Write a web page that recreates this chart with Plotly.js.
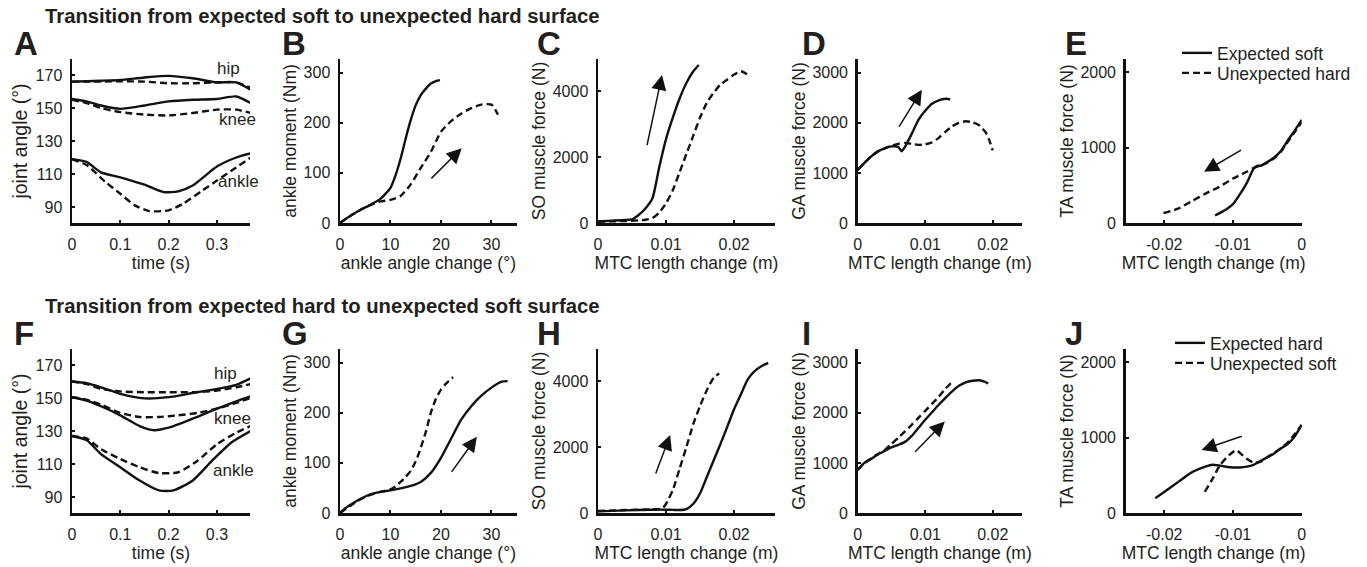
<!DOCTYPE html>
<html><head><meta charset="utf-8">
<script src="https://cdn.plot.ly/plotly-3.0.1.min.js"></script>
<style>html,body{margin:0;padding:0;background:#fff}#chart{width:1367px;height:567px}</style>
</head><body><div id="chart"></div>
<script>
// ---------- DATA ----------
// Panel A (expected soft vs unexpected hard) joint angles vs time
const aT = [0,0.03,0.06,0.1,0.15,0.2,0.25,0.3,0.34,0.37];
const aHipSolid = [166,166.2,166.5,167,168.5,169.5,168,165.5,165.5,161];
const aHipDash  = [166,166,166,166.2,166,165,165,165.6,165.5,162.2];
const aKneeSolid = [155.5,154,151.5,149.5,151.5,154,155,155.5,157,153];
const aKneeDash  = [155,153,150,147.5,146,145.5,147,149,149,147];
const aAnkT = [0,0.03,0.06,0.1,0.15,0.19,0.22,0.25,0.3,0.34,0.37];
const aAnkSolid = [119,117.3,111,108,103.5,99,99.5,103,114.5,120,122.5];
const aAnkDashT = [0,0.03,0.07,0.1,0.13,0.16,0.2,0.23,0.27,0.3,0.34,0.37];
const aAnkDash = [119,115.5,105,98,91,87.5,88,92,100,106,114,120];
// Panel B ankle moment vs ankle angle change
const bSolidX = [0,2,4,6,8,10,11,12,13,14,15,16,17,18,19,19.8];
const bSolidY = [0,14,26,36,48,70,95,128,168,205,235,255,268,278,283,285];
const bDashX = [0,2,4,6,8,10,12,14,16,18,20,22,24,26,28,30,31.3];
const bDashY = [0,14,26,36,43,46,54,77,110,142,182,203,218,229,236,236,216];
// Panel C SO force vs MTC length change
const cSolidX = [0,0.002,0.004,0.005,0.006,0.007,0.008,0.009,0.010,0.011,0.012,0.013,0.014,0.0148];
const cSolidY = [50,70,90,110,250,450,750,1700,2550,3200,3780,4250,4600,4790];
const cDashX = [0,0.002,0.004,0.006,0.007,0.008,0.009,0.010,0.011,0.012,0.013,0.014,0.015,0.016,0.017,0.018,0.019,0.020,0.021,0.0221];
const cDashY = [40,50,60,80,100,150,320,600,1000,1550,2100,2650,3200,3650,3950,4200,4350,4500,4600,4480];
// Panel D GA force
const dSolidX = [0,0.001,0.002,0.003,0.004,0.005,0.006,0.0065,0.007,0.008,0.009,0.010,0.011,0.012,0.013,0.0137];
const dSolidY = [1060,1200,1330,1430,1490,1530,1520,1430,1520,1780,2060,2240,2380,2450,2480,2470];
const dDashX = [0,0.001,0.002,0.003,0.004,0.005,0.006,0.007,0.008,0.009,0.010,0.011,0.012,0.013,0.014,0.015,0.016,0.017,0.018,0.019,0.0195,0.020];
const dDashY = [1060,1200,1330,1430,1490,1540,1580,1600,1580,1560,1570,1610,1700,1820,1930,2000,2030,2010,1950,1800,1650,1450];
// Panel E TA force
const eSolidX = [-0.0126,-0.011,-0.010,-0.009,-0.008,-0.007,-0.0065,-0.006,-0.005,-0.004,-0.003,-0.002,-0.001,0];
const eSolidY = [100,180,250,380,530,720,760,760,810,870,960,1100,1230,1370];
const eDashX = [-0.0201,-0.018,-0.016,-0.014,-0.012,-0.010,-0.008,-0.007,-0.006,-0.005,-0.004,-0.003,-0.002,-0.001,0];
const eDashY = [130,190,290,390,480,590,680,730,760,800,860,950,1080,1210,1340];

// Panel F (expected hard vs unexpected soft) joint angles
const fT = [0,0.03,0.06,0.1,0.15,0.2,0.25,0.3,0.34,0.37];
const fHipSolid = [160,159,156.5,152.5,149.8,150.5,153,155.5,158,162];
const fHipDash  = [160,158.5,155.5,154,153.5,153.5,153.5,154.5,156.5,158.5];
const fKneeT = [0,0.03,0.06,0.1,0.14,0.17,0.2,0.25,0.3,0.34,0.37];
const fKneeSolid = [150.5,148.5,145,139.5,133,130.5,132,137.5,143.5,148,151];
const fKneeDashT = [0,0.03,0.06,0.1,0.14,0.18,0.22,0.26,0.3,0.34,0.37];
const fKneeDash  = [150.5,149,146,141,138.5,138.5,139.5,141,143.5,147,150];
const fAnkT = [0,0.03,0.06,0.1,0.14,0.18,0.21,0.25,0.29,0.33,0.37];
const fAnkSolid = [127,124.5,116,108,100,94,94,100,112,123,130];
const fAnkDashT = [0,0.03,0.06,0.1,0.14,0.18,0.22,0.26,0.3,0.34,0.37];
const fAnkDash  = [127,125.5,119,113,108,104.5,105,112,122,129,133];
// Panel G
const gSolidX = [0,1,2,4,6,8,10,12,14,16,18,20,22,24,26,28,30,32,33.2];
const gSolidY = [0,9,16,28,37,42,45,49,54,62,80,110,148,186,213,234,250,262,263];
const gDashX = [0,2,4,6,8,10,11,12,13,14,15,16,17,18,19,20,21,22.4];
const gDashY = [0,14,27,36,42,47,53,62,72,84,103,130,162,200,228,246,258,271];
// Panel H
const hSolidX = [0,0.004,0.008,0.010,0.011,0.012,0.013,0.014,0.015,0.016,0.017,0.018,0.019,0.020,0.021,0.022,0.023,0.024,0.025];
const hSolidY = [50,80,100,100,95,90,120,280,600,1100,1600,2100,2620,3150,3600,4050,4300,4450,4550];
const hDashX = [0,0.004,0.008,0.009,0.0095,0.010,0.011,0.012,0.013,0.014,0.015,0.016,0.017,0.0178];
const hDashY = [60,90,110,120,150,280,700,1350,2010,2700,3250,3730,4100,4230];
// Panel I
const iSolidX = [0,0.001,0.002,0.003,0.004,0.005,0.006,0.007,0.008,0.009,0.010,0.011,0.012,0.013,0.014,0.015,0.016,0.017,0.018,0.019,0.0193];
const iSolidY = [860,1000,1080,1170,1240,1310,1360,1420,1540,1700,1860,2010,2160,2300,2430,2540,2610,2640,2650,2610,2580];
const iDashX = [0,0.001,0.002,0.003,0.004,0.005,0.006,0.007,0.008,0.009,0.010,0.011,0.012,0.013,0.014];
const iDashY = [860,1000,1090,1180,1260,1380,1500,1630,1760,1900,2040,2180,2320,2480,2620];
// Panel J
const jSolidX = [-0.0213,-0.020,-0.018,-0.016,-0.014,-0.013,-0.012,-0.011,-0.010,-0.009,-0.008,-0.007,-0.006,-0.005,-0.004,-0.003,-0.002,-0.001,0];
const jSolidY = [195,280,410,540,615,640,630,615,605,605,615,640,690,740,790,860,920,1020,1170];
const jDashX = [-0.0141,-0.013,-0.012,-0.011,-0.010,-0.0095,-0.009,-0.008,-0.007,-0.006,-0.005,-0.004,-0.003,-0.002,-0.001,0];
const jDashY = [280,450,620,730,810,835,800,720,670,680,740,800,860,940,1050,1170];

// Tick labels
const tickTime = [0,0.1,0.2,0.3], tickTimeTxt = ['0','0.1','0.2','0.3'];
const tickJoint = [90,110,130,150,170];
const tickAngle = [0,10,20,30];
const tickMoment = [0,100,200,300];
const tickLen = [0,0.01,0.02], tickLenTxt = ['0','0.01','0.02'];
const tickSO = [0,2000,4000];
const tickGA = [0,1000,2000,3000];
const tickNeg = [-0.02,-0.01,0], tickNegTxt = ['-0.02','-0.01','0'];
const tickTA = [0,1000,2000];

// Arrow annotations [panel, tailX, tailY, headX, headY]
const arrows = [
  [2,17.8,86,24.1,149],[3,0.00716,2312,0.0094,4485],[4,0.006,1893,0.0095,2660],[5,-0.0086,979,-0.0142,681],
  [7,21.9,79,27.1,152],[8,0.0084,1150,0.0106,2360],[9,0.0083,1193,0.0129,1826],[10,-0.0085,1027,-0.01456,837]
];
const legendTop = ['Expected soft','Unexpected hard'];
const legendBot = ['Expected hard','Unexpected soft'];

// ---------- LAYOUT ----------
const W = 1367, H = 567;
const FONT = 'Liberation Sans, Arial, Helvetica, sans-serif';
const TXT = '#231f20', LINE = '#111';
const px = v => v / W, py = v => 1 - v / H;

const cols = [
  {x0:72, x1:250}, {x0:340, x1:516.7}, {x0:598, x1:775}, {x0:857.7, x1:1022}, {x0:1125.7, x1:1301.7}
];
const rows = [{y0:59, y1:223}, {y0:349, y1:513}];
const colAxes = [
  {xr:[0,0.3685], yr:[80.3,179.7], xt:tickTime, xtt:tickTimeTxt, yt:tickJoint, xtitle:'time (s)', ytitle:'joint angle (°)', ys:19.5},
  {xr:[0,35], yr:[0,327], xt:tickAngle, xtt:tickAngle.map(String), yt:tickMoment, xtitle:'ankle angle change (°)', ytitle:'ankle moment (Nm)', ys:17.5},
  {xr:[0,0.026], yr:[0,4970], xt:tickLen, xtt:tickLenTxt, yt:tickSO, xtitle:'MTC length change (m)', ytitle:'SO muscle force (N)', ys:17.5},
  {xr:[0,0.02434], yr:[0,3274], xt:tickLen, xtt:tickLenTxt, yt:tickGA, xtitle:'MTC length change (m)', ytitle:'GA muscle force (N)', ys:17.5},
  {xr:[-0.0256,0], yr:[0,2178], xt:tickNeg, xtt:tickNegTxt, yt:tickTA, xtitle:'MTC length change (m)', ytitle:'TA muscle force (N)', ys:17.5}
];

const legBase = {xanchor:'left', yanchor:'middle', bgcolor:'rgba(0,0,0,0)', font:{family:FONT, size:17.5, color:TXT}, tracegroupgap:0, itemwidth:30, borderwidth:0};
const layout = {
  width: W, height: H, margin: {l:0, r:0, t:0, b:0},
  paper_bgcolor: '#fff', plot_bgcolor: '#fff',
  font: {family: FONT, size: 16, color: TXT},
  showlegend: true,
  legend:  Object.assign({}, legBase, {x: px(1177), y: py(53)}),
  legend2: Object.assign({}, legBase, {x: px(1177), y: py(73)}),
  legend3: Object.assign({}, legBase, {x: px(1170), y: py(343)}),
  legend4: Object.assign({}, legBase, {x: px(1170), y: py(363)}),
  annotations: [], shapes: []
};

const common = {
  showline:true, linecolor:LINE, linewidth:2.5, ticks:'inside', ticklen:3, tickwidth:2, tickcolor:LINE,
  showgrid:false, zeroline:false, fixedrange:true, tickfont:{family:FONT, size:16, color:TXT}
};

for (let r = 0; r < 2; r++) {
  for (let c = 0; c < 5; c++) {
    const k = r*5 + c + 1;
    const a = colAxes[c];
    layout['xaxis'+k] = Object.assign({}, common, {
      domain:[px(cols[c].x0), px(cols[c].x1)], range:a.xr, tickmode:'array', tickvals:a.xt, ticktext:a.xtt,
      anchor:'y'+k, ticklabelstandoff:5,
      title:{text:a.xtitle, font:{family:FONT, size:17.5, color:TXT}, standoff:4}
    });
    layout['yaxis'+k] = Object.assign({}, common, {
      domain:[py(rows[r].y1), py(rows[r].y0)], range:a.yr, tickmode:'array', tickvals:a.yt,
      anchor:'x'+k, ticklabelstandoff:4,
      title:{text:a.ytitle, font:{family:FONT, size:a.ys, color:TXT}, standoff:3}
    });
  }
}

// Panel letters and row titles
const letters = ['A','B','C','D','E','F','G','H','I','J'];
const letterX = [12, 280, 535, 800, 1063];
letters.forEach((L, i) => {
  const r = Math.floor(i/5), c = i%5;
  layout.annotations.push({text:'<b>'+L+'</b>', xref:'paper', yref:'paper', x:px(letterX[c]), y:py(43 + 290*r),
    xanchor:'left', yanchor:'middle', showarrow:false, font:{family:FONT, size:33, color:TXT}});
});
['Transition from expected soft to unexpected hard surface','Transition from expected hard to unexpected soft surface'].forEach((t, r) => {
  layout.annotations.push({text:'<b>'+t+'</b>', xref:'paper', yref:'paper', x:px(43), y:py(16 + 290*r),
    xanchor:'left', yanchor:'middle', showarrow:false, font:{family:FONT, size:20.3, color:TXT}});
});
// Joint labels
const jointLbl = [
  [1,'hip',0.323,174.1],[1,'knee',0.342,143],[1,'ankle',0.344,105.6],
  [6,'hip',0.317,164.8],[6,'knee',0.333,137.6],[6,'ankle',0.335,106]
];
jointLbl.forEach(([k,t,x,y]) => layout.annotations.push({text:t, xref:'x'+k, yref:'y'+k, x:x, y:y,
  showarrow:false, font:{family:FONT, size:17, color:TXT}}));
arrows.forEach(([k,x0,y0,x1,y1]) => layout.annotations.push({text:'', xref:'x'+k, yref:'y'+k, axref:'x'+k, ayref:'y'+k,
  x:x1, y:y1, ax:x0, ay:y0, showarrow:true, arrowhead:2, arrowsize:2, arrowwidth:1.5, arrowcolor:LINE}));

// ---------- TRACES ----------
const traces = [];
const solid = {color:LINE, width:2.4, shape:'spline', smoothing:0.6};
const dashed = {color:LINE, width:2.4, dash:'7px,4px', shape:'spline', smoothing:0.6};
function add(k, x, y, isDash, name, legend) {
  traces.push({type:'scatter', mode:'lines', x:x, y:y, xaxis:'x'+k, yaxis:'y'+k,
    line: isDash ? dashed : solid, name: name || '', showlegend: !!name, legend: legend || 'legend', hoverinfo:'skip'});
}
add(1,aT,aHipSolid,false); add(1,aT,aHipDash,true);
add(1,aT,aKneeSolid,false); add(1,aT,aKneeDash,true);
add(1,aAnkT,aAnkSolid,false); add(1,aAnkDashT,aAnkDash,true);
add(2,bSolidX,bSolidY,false); add(2,bDashX,bDashY,true);
add(3,cSolidX,cSolidY,false); add(3,cDashX,cDashY,true);
add(4,dSolidX,dSolidY,false); add(4,dDashX,dDashY,true);
add(5,eSolidX,eSolidY,false,legendTop[0],'legend'); add(5,eDashX,eDashY,true,legendTop[1],'legend2');
add(6,fT,fHipSolid,false); add(6,fT,fHipDash,true);
add(6,fKneeT,fKneeSolid,false); add(6,fKneeDashT,fKneeDash,true);
add(6,fAnkT,fAnkSolid,false); add(6,fAnkDashT,fAnkDash,true);
add(7,gSolidX,gSolidY,false); add(7,gDashX,gDashY,true);
add(8,hSolidX,hSolidY,false); add(8,hDashX,hDashY,true);
add(9,iSolidX,iSolidY,false); add(9,iDashX,iDashY,true);
add(10,jSolidX,jSolidY,false,legendBot[0],'legend3'); add(10,jDashX,jDashY,true,legendBot[1],'legend4');

Plotly.newPlot('chart', traces, layout, {staticPlot:true, displayModeBar:false});
</script></body></html>
